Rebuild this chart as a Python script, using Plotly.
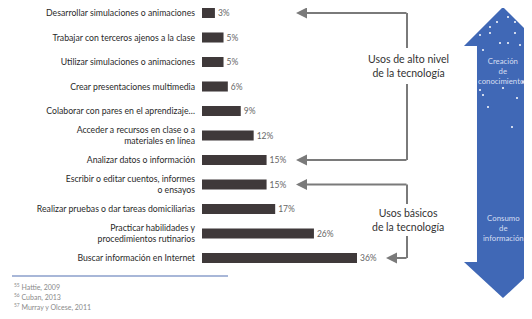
import plotly.graph_objects as go

categories = [
    "Desarrollar simulaciones o animaciones",
    "Trabajar con terceros ajenos a la clase",
    "Utilizar simulaciones o animaciones",
    "Crear presentaciones multimedia",
    "Colaborar con pares en el aprendizaje…",
    "Acceder a recursos en clase o a<br>materiales en línea",
    "Analizar datos o información",
    "Escribir o editar cuentos, informes<br>o ensayos",
    "Realizar pruebas o dar tareas domiciliarias",
    "Practicar habilidades y<br>procedimientos rutinarios",
    "Buscar información en Internet",
]
values = [3, 5, 5, 6, 9, 12, 15, 15, 17, 26, 36]
value_labels = [f"{v}%" for v in values]

footnotes = ["<sup>55</sup> Hattie, 2009", "<sup>56</sup> Cuban, 2013", "<sup>57</sup> Murray y Olcese, 2011"]

# The page body keeps its default 8px margin: positions below are window pixels.
OFF = 8
W, H = 532 - OFF, 319 - OFF
L = 202 - OFF
PW = W - L
PXU = 155 / 36.0
XR = PW / PXU
ROW0, ROWH = 13.0, 24.5


def xd(px):
    return (px - 202) / PXU


def yd(py):
    return (py - ROW0) / ROWH


def xp(px):
    return (px - OFF - L) / PW


def yp(py):
    return 1 - (py - OFF) / H


FONT = "Lato, 'Open Sans', sans-serif"
GRAY = "#7a7a7a"

fig = go.Figure()
fig.add_trace(go.Bar(
    y=list(range(len(categories))), x=values, orientation="h",
    width=0.41, marker=dict(color="#3f393a", line=dict(width=0)),
    text=value_labels, textposition="outside",
    textfont=dict(size=8.5, color="#666666", family=FONT),
    cliponaxis=False, hoverinfo="skip",
))

shapes = []
annotations = []

line = dict(color=GRAY, width=2)
r0, r6, r7, r10 = 0, 6, 7, 10
for y0, y1 in [(r0, yd(48)), (yd(84), r6), (r7, yd(204)), (yd(236), r10)]:
    shapes.append(dict(type="line", xref="x", yref="y", x0=xd(407), x1=xd(407),
                       y0=y0, y1=y1, line=line))
for yrow, xtip in [(r0, 296), (r6, 296), (r7, 296), (r10, 386)]:
    annotations.append(dict(
        x=xd(xtip), y=yrow, xref="x", yref="y", ax=xd(408), ay=yrow,
        axref="x", ayref="y", text="", showarrow=True, arrowhead=2,
        arrowsize=1.1, arrowwidth=2, arrowcolor=GRAY,
    ))
annotations.append(dict(x=xd(408), y=yd(66), xref="x", yref="y", showarrow=False,
                        xanchor="center", yanchor="middle",
                        text="Usos de alto nivel<br>de la tecnología",
                        font=dict(size=10.5, color="#333333", family=FONT), align="center"))
annotations.append(dict(x=xd(408), y=yd(220), xref="x", yref="y", showarrow=False,
                        xanchor="center", yanchor="middle",
                        text="Usos básicos<br>de la tecnología",
                        font=dict(size=10.5, color="#333333", family=FONT), align="center"))

# Blue double arrow
pts = [(503, 7), (542, 46), (530, 46), (530, 262), (542, 262), (503, 298),
       (464, 262), (477, 262), (477, 46), (464, 46)]
path = "M " + " L ".join(f"{xp(a):.4f},{yp(b):.4f}" for a, b in pts) + " Z"
shapes.append(dict(type="path", xref="paper", yref="paper", path=path,
                   fillcolor="#4068b6", line=dict(width=0), layer="above"))
stars = [(508, 17), (515, 22), (490, 27), (480, 35), (490, 33), (515, 33), (525, 34),
         (500, 43), (508, 43), (483, 50), (527, 53), (480, 90), (483, 95), (517, 98),
         (488, 107), (523, 82), (512, 127), (503, 88), (497, 22), (520, 45)]
for sx, sy in stars:
    shapes.append(dict(type="circle", xref="paper", yref="paper",
                       x0=xp(sx - 1), x1=xp(sx + 1), y0=yp(sy - 1), y1=yp(sy + 1),
                       fillcolor="white", line=dict(width=0), layer="above"))
annotations.append(dict(x=xp(503), y=yp(71), xref="paper", yref="paper", showarrow=False,
                        xanchor="center", yanchor="middle",
                        text="Creación<br>de<br>conocimientos",
                        font=dict(size=7.8, color="#d5def2", family=FONT), align="center"))
annotations.append(dict(x=xp(503), y=yp(228), xref="paper", yref="paper", showarrow=False,
                        xanchor="center", yanchor="middle",
                        text="Consumo<br>de<br>información",
                        font=dict(size=7.8, color="#d5def2", family=FONT), align="center"))

# Footnote rule and notes
shapes.append(dict(type="line", xref="paper", yref="paper", x0=xp(12), x1=xp(228),
                   y0=yp(276), y1=yp(276), line=dict(color="#a8b7d8", width=2)))
for i, t in enumerate(footnotes):
    annotations.append(dict(x=xp(12), y=yp(287 + i * 10), xref="paper", yref="paper",
                            xanchor="left", yanchor="middle", showarrow=False, text=t,
                            font=dict(size=7, color="#8a8a8a", family=FONT)))

fig.update_layout(
    width=W, height=H, autosize=False,
    margin=dict(l=L, r=0, t=0, b=0, autoexpand=False),
    paper_bgcolor="white", plot_bgcolor="white", showlegend=False,
    shapes=shapes, annotations=annotations,
    xaxis=dict(range=[0, XR], visible=False, fixedrange=True),
    yaxis=dict(range=[yd(319), yd(OFF)], tickmode="array", fixedrange=True,
               tickvals=list(range(len(categories))), ticktext=categories,
               showgrid=False, zeroline=False, showline=False, ticks="",
               ticklabelstandoff=6, automargin=False, ticklabeloverflow="allow",
               tickfont=dict(size=8.7, color="#2a2a2a", family=FONT)),
)

fig.write_html("out.html", config=dict(displayModeBar=False, responsive=False))
